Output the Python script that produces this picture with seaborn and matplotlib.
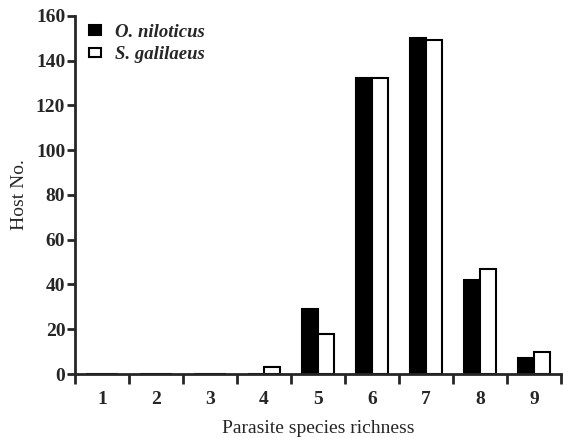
import pandas as pd
import seaborn as sns
import matplotlib.pyplot as plt

richness = [1, 2, 3, 4, 5, 6, 7, 8, 9]
o_niloticus = [0, 0, 0, 0, 29, 132, 150, 42, 7]
s_galilaeus = [0, 0, 0, 3, 18, 132, 149, 47, 10]
species = ["O. niloticus", "S. galilaeus"]

df = pd.DataFrame({
    "richness": richness * 2,
    "hosts": o_niloticus + s_galilaeus,
    "species": [species[0]] * len(richness) + [species[1]] * len(richness),
})

sns.set_style("ticks")
plt.rcParams["font.family"] = ["Liberation Serif", "DejaVu Serif"]

fig = plt.figure(figsize=(5.64, 4.38), dpi=100)
ax = fig.add_axes([0.133, 0.146, 0.862, 0.818])

sns.barplot(data=df, x="richness", y="hosts", hue="species",
            palette=["black", "white"], edgecolor="black", linewidth=1.5,
            width=0.6, gap=0, saturation=1, ax=ax)

ax.set_ylim(0, 160)
ax.set_xlim(-0.5, 8.5)
ax.set_yticks(range(0, 161, 20))
ax.set_xticks(range(9))
ax.set_xticklabels([str(r) for r in richness])
ax.set_xticks([i - 0.5 for i in range(10)], minor=True)
ax.tick_params(axis="x", which="major", length=0, pad=12)
ax.tick_params(axis="x", which="minor", length=7, width=2, direction="out")
ax.tick_params(axis="y", length=6, width=2, pad=1)
for lab in ax.get_xticklabels() + ax.get_yticklabels():
    lab.set_fontsize(14)
    lab.set_fontweight("bold")

for side in ["top", "right"]:
    ax.spines[side].set_visible(False)
for side in ["left", "bottom"]:
    ax.spines[side].set_linewidth(2)

ax.set_xlabel("Parasite species richness", fontsize=14, labelpad=9)
ax.set_ylabel("Host No.", fontsize=14, labelpad=6)

sns.move_legend(ax, "upper left", bbox_to_anchor=(-0.005, 1.025), frameon=False,
                title=None, handlelength=0.6, handleheight=0.4,
                handletextpad=0.75, labelspacing=0.3,
                prop={"style": "italic", "weight": "bold", "size": 13.5})

fig.savefig("out.png", dpi=100)
